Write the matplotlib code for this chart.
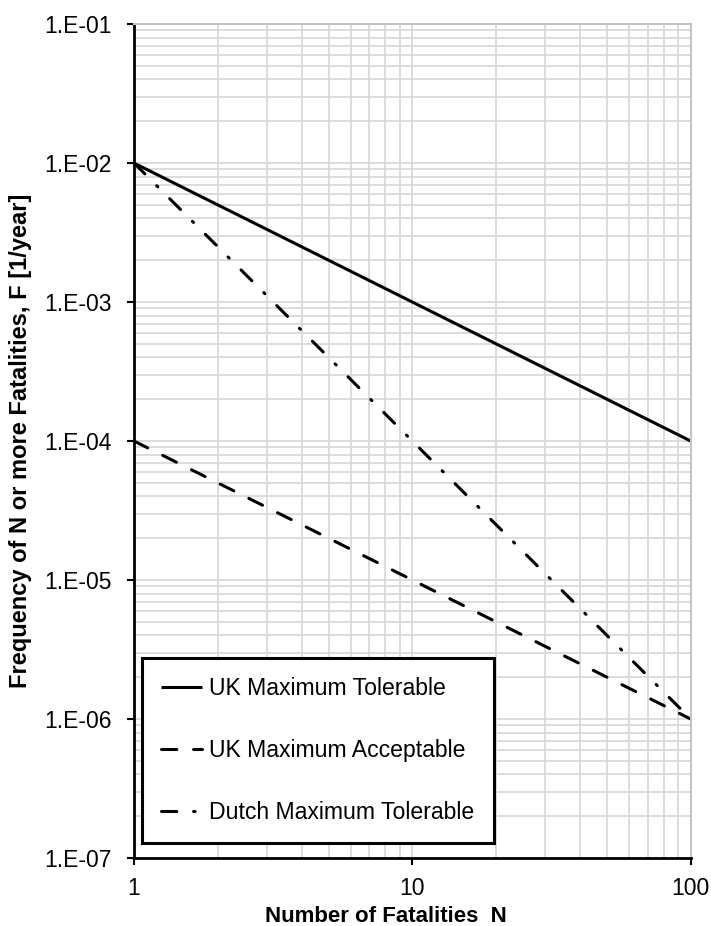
import numpy as np
import matplotlib.pyplot as plt
from matplotlib.ticker import LogLocator, NullFormatter, FixedLocator

plt.rcParams['font.family'] = ['Liberation Sans', 'DejaVu Sans']

# F-N criterion lines (end points)
n_tol = [1, 100]
f_uk_tol = [1e-2, 1e-4]

n_acc = [1, 100]
f_uk_acc = [1e-4, 1e-6]

n_dutch = [1, 100]
f_dutch = [1e-2, 1e-6]

labels = ["UK Maximum Tolerable", "UK Maximum Acceptable", "Dutch Maximum Tolerable"]
yticks = [1e-7, 1e-6, 1e-5, 1e-4, 1e-3, 1e-2, 1e-1]
yticklabels = ["1.E-07", "1.E-06", "1.E-05", "1.E-04", "1.E-03", "1.E-02", "1.E-01"]
xticks = [1, 10, 100]
xticklabels = ["1", "10", "100"]

fig = plt.figure(figsize=(7.11, 9.26), dpi=100)
ax = fig.add_axes([0.1885, 0.0734, 0.783, 0.9006])

lw = 2.2
ax.plot(n_tol, f_uk_tol, color='black', lw=lw, solid_capstyle='butt', label=labels[0])
ax.plot(n_acc, f_uk_acc, color='black', lw=lw, dashes=(5, 5.5), dash_capstyle='round', label=labels[1])
ax.plot(n_dutch, f_dutch, color='black', lw=lw, dashes=(5, 5.5, 0.5, 5.5), dash_capstyle='round', label=labels[2])

ax.set_xscale('log')
ax.set_yscale('log')
ax.set_xlim(1, 100)
ax.set_ylim(1e-7, 1e-1)

ax.xaxis.set_major_locator(FixedLocator(xticks))
ax.set_xticklabels(xticklabels)
ax.yaxis.set_major_locator(FixedLocator(yticks))
ax.set_yticklabels(yticklabels)
ax.xaxis.set_minor_locator(LogLocator(base=10, subs=np.arange(2, 10)))
ax.yaxis.set_minor_locator(LogLocator(base=10, subs=np.arange(2, 10)))
ax.xaxis.set_minor_formatter(NullFormatter())
ax.yaxis.set_minor_formatter(NullFormatter())

ax.grid(True, which='both', color='#d6d6d6', lw=1.2)
ax.set_axisbelow(True)

ax.tick_params(which='major', direction='out', length=5, width=1.5, labelsize=16.5)
ax.tick_params(axis='y', pad=11)
ax.tick_params(axis='x', pad=9)
ax.tick_params(which='minor', length=0)

for s in ['top', 'right']:
    ax.spines[s].set_color('#c4c4c4')
    ax.spines[s].set_linewidth(1.5)
for s in ['left', 'bottom']:
    ax.spines[s].set_color('black')
    ax.spines[s].set_linewidth(2)

ax.set_xlabel("Number of Fatalities  N", fontsize=16, fontweight='bold', labelpad=6)
ax.xaxis.set_label_coords(0.452, -0.058)
ax.set_ylabel("Frequency of N or more Fatalities, F [1/year]", fontsize=17, fontweight='bold')
ax.yaxis.set_label_coords(-0.184, 0.5)

leg = ax.legend(loc='lower left', bbox_to_anchor=(0.0144, 0.0185), fontsize=16.6,
                frameon=True, fancybox=False, edgecolor='black', framealpha=1,
                handlelength=1.8, handletextpad=0.3, labelspacing=1.68,
                borderpad=0.82, borderaxespad=0)
leg.get_frame().set_linewidth(2.2)

fig.savefig("out.png", dpi=100)
